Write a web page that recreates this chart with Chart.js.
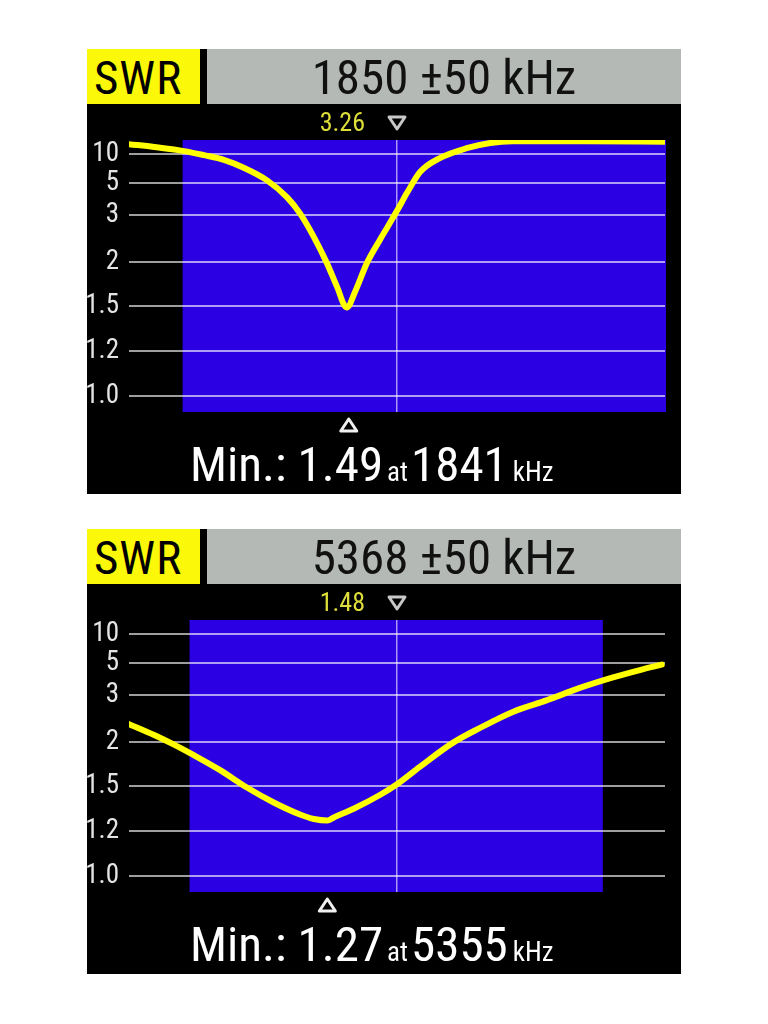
<!DOCTYPE html>
<html lang="en">
<head>
    <meta charset="UTF-8">
    <title>SWR sweep</title>
    <script src="https://cdn.jsdelivr.net/npm/chart.js@4.4.1/dist/chart.umd.min.js"></script>
    <style>
        body { margin: 0; background: #fff; width: 768px; height: 1024px; position: relative; overflow: hidden; }
        .panel { position: absolute; left: 87px; width: 594px; height: 445px; background: #000;
                 font-family: "Liberation Sans Narrow", "Roboto Condensed", "DejaVu Sans Condensed", "Liberation Sans", sans-serif;
                 font-stretch: condensed; }
        .tag { position: absolute; left: 0; top: 0; width: 113px; height: 55px; background: #fbf80a; color: #000;
               font-size: 47px; line-height: 58px; padding-left: 7px; letter-spacing: 1px; box-sizing: border-box; }
        .head { position: absolute; left: 120px; top: 0; width: 474px; height: 55px; background: #b5b9b5; color: #111;
                font-size: 49px; line-height: 58px; text-align: center; }
        canvas { position: absolute; left: 0; top: 55px; }
        .foot { position: absolute; left: 103px; top: 386px; color: #fff; font-size: 49px; line-height: 60px; white-space: nowrap; }
        .foot .at { font-size: 27px; margin: 0 3px 0 4px; }
        .foot .u { font-size: 27px; margin-left: 5px; }
    </style>
</head>
<body>
    <div class="panel" style="top: 49px">
        <div class="tag">SWR</div>
        <div class="head">1850 ±50 kHz</div>
        <canvas id="chart1" width="594" height="390"></canvas>
        <div class="foot">Min.: 1.49<span class="at">at</span>1841<span class="u">kHz</span></div>
    </div>
    <div class="panel" style="top: 529px">
        <div class="tag">SWR</div>
        <div class="head">5368 ±50 kHz</div>
        <canvas id="chart2" width="594" height="390"></canvas>
        <div class="foot">Min.: 1.27<span class="at">at</span>5355<span class="u">kHz</span></div>
    </div>

    <script>
        // y axis ticks (SWR)
        var tickSwr = [1.0, 1.2, 1.5, 2, 3, 5, 10];
        var tickLabels = ['1.0', '1.2', '1.5', '2', '3', '5', '10'];

        // 160 m sweep
        var freq1 = [1800, 1804.7, 1810.3, 1814, 1817.7, 1821.5, 1825.7, 1829.5, 1831.9, 1834.5, 1836.9, 1838.8,
                     1840.6, 1842.3, 1844.4, 1846.8, 1848.1, 1850, 1851.9, 1854.3, 1858, 1863, 1867.4, 1871.6, 1885, 1900];
        var swr1  = [11.7, 11.2, 10.5, 9.8, 9.0, 7.6, 5.5, 4.1, 3.1, 2.53, 1.99, 1.72,
                     1.49, 1.68, 1.99, 2.47, 2.72, 3.26, 4.4, 6.9, 9.3, 11.0, 11.9, 12.2, 12.2, 12.1];
        var band1 = [1810, 2000];

        // 60 m sweep
        var freq2 = [5318, 5322.7, 5326.4, 5330.1, 5335, 5340, 5345, 5349.9, 5352.5, 5355, 5356.2, 5360,
                     5364.8, 5368, 5372.3, 5378.4, 5383.5, 5389.6, 5396, 5402.1, 5408.3, 5413.3, 5417.4];
        var swr2  = [2.38, 2.15, 1.97, 1.85, 1.68, 1.49, 1.39, 1.31, 1.28, 1.27, 1.29, 1.35,
                     1.44, 1.52, 1.72, 1.99, 2.30, 2.64, 2.89, 3.44, 4.1, 4.56, 4.9];
        var band2 = [5329.3, 5406.4];

        var FONT = '"Liberation Sans Narrow", "Roboto Condensed", "DejaVu Sans Condensed", "Liberation Sans", sans-serif';

        // the analyser's SWR axis is piecewise, not log: map SWR onto it
        var nodeSwr = [1.0, 1.2, 1.5, 2, 3, 5, 10];
        var nodePos = [0, 45, 90, 134, 181, 213, 242];
        function toPos(s) {
            for (var i = 1; i < nodeSwr.length; i++) {
                if (s <= nodeSwr[i] || i === nodeSwr.length - 1) {
                    var a = nodeSwr[i - 1], b = nodeSwr[i];
                    return nodePos[i - 1] + (s - a) / (b - a) * (nodePos[i] - nodePos[i - 1]);
                }
            }
        }

        function triangle(ctx, x, y, down, color) {
            var w = 8, h = 6;
            ctx.beginPath();
            if (down) {
                ctx.moveTo(x - w, y - h); ctx.lineTo(x + w, y - h); ctx.lineTo(x, y + h);
            } else {
                ctx.moveTo(x - w, y + h); ctx.lineTo(x + w, y + h); ctx.lineTo(x, y - h);
            }
            ctx.closePath();
            ctx.lineWidth = 3;
            ctx.lineJoin = 'round';
            ctx.strokeStyle = color;
            ctx.stroke();
        }

        var bandPlugin = {
            id: 'band',
            beforeDraw: function(chart) {
                var o = chart.options.plugins.band, a = chart.chartArea, x = chart.scales.x;
                var ctx = chart.ctx;
                ctx.save();
                ctx.fillStyle = '#000';
                ctx.fillRect(0, 0, chart.width, chart.height);
                var x1 = Math.max(a.left, x.getPixelForValue(o.band[0]));
                var x2 = Math.min(a.right + 1, x.getPixelForValue(o.band[1]));
                ctx.fillStyle = '#2b00e3';
                ctx.fillRect(x1, a.top, x2 - x1, a.bottom - a.top);
                ctx.restore();
            },
            afterDraw: function(chart) {
                var o = chart.options.plugins.band, a = chart.chartArea, x = chart.scales.x;
                var ctx = chart.ctx;
                ctx.save();
                var xc = x.getPixelForValue(o.center);
                ctx.font = '26px ' + FONT;
                ctx.fillStyle = '#dede3a';
                ctx.textAlign = 'right';
                ctx.textBaseline = 'middle';
                ctx.fillText(o.centerSwr, xc - 32, a.top - 16);
                triangle(ctx, xc, a.top - 17, true, '#c8c8c8');
                triangle(ctx, x.getPixelForValue(o.minFreq), a.bottom + 13, false, '#f0f0f0');
                ctx.restore();
            }
        };

        function drawSweep(id, freqs, swrs, band, center, centerSwr, minFreq) {
            var pts = freqs.map(function(f, i) { return {x: f, y: toPos(swrs[i])}; });
            return new Chart(document.getElementById(id), {
                type: 'line',
                data: {
                    datasets: [{
                        data: pts,
                        borderColor: '#ffff00',
                        borderWidth: 6,
                        pointRadius: 0,
                        cubicInterpolationMode: 'monotone',
                        borderCapStyle: 'round',
                        borderJoinStyle: 'round'
                    }]
                },
                options: {
                    responsive: false,
                    animation: false,
                    devicePixelRatio: 1,
                    layout: {padding: {top: 36, right: 16, bottom: 82, left: 0}},
                    plugins: {
                        legend: {display: false},
                        tooltip: {enabled: false},
                        band: {band: band, center: center, centerSwr: centerSwr, minFreq: minFreq}
                    },
                    scales: {
                        x: {
                            type: 'linear',
                            min: center - 50,
                            max: center + 50,
                            afterBuildTicks: function(s) { s.ticks = [{value: center}]; },
                            afterFit: function(s) { s.height = 0; },
                            ticks: {display: false},
                            border: {display: false},
                            grid: {color: 'rgba(255,255,255,0.6)', lineWidth: 1.5, drawTicks: false}
                        },
                        y: {
                            type: 'linear',
                            min: -16,
                            max: 256,
                            afterBuildTicks: function(s) {
                                s.ticks = tickSwr.map(function(v) { return {value: toPos(v)}; });
                            },
                            afterFit: function(s) { s.width = 42; },
                            ticks: {
                                color: '#e4e4e4',
                                font: {family: FONT, size: 27},
                                padding: 10,
                                callback: function(v, i) { return tickLabels[i]; }
                            },
                            border: {display: false},
                            grid: {color: 'rgba(255,255,255,0.62)', lineWidth: 2, drawTicks: false}
                        }
                    }
                },
                plugins: [bandPlugin]
            });
        }

        drawSweep('chart1', freq1, swr1, band1, 1850, '3.26', 1841);
        drawSweep('chart2', freq2, swr2, band2, 5368, '1.48', 5355);
    </script>
</body>
</html>
